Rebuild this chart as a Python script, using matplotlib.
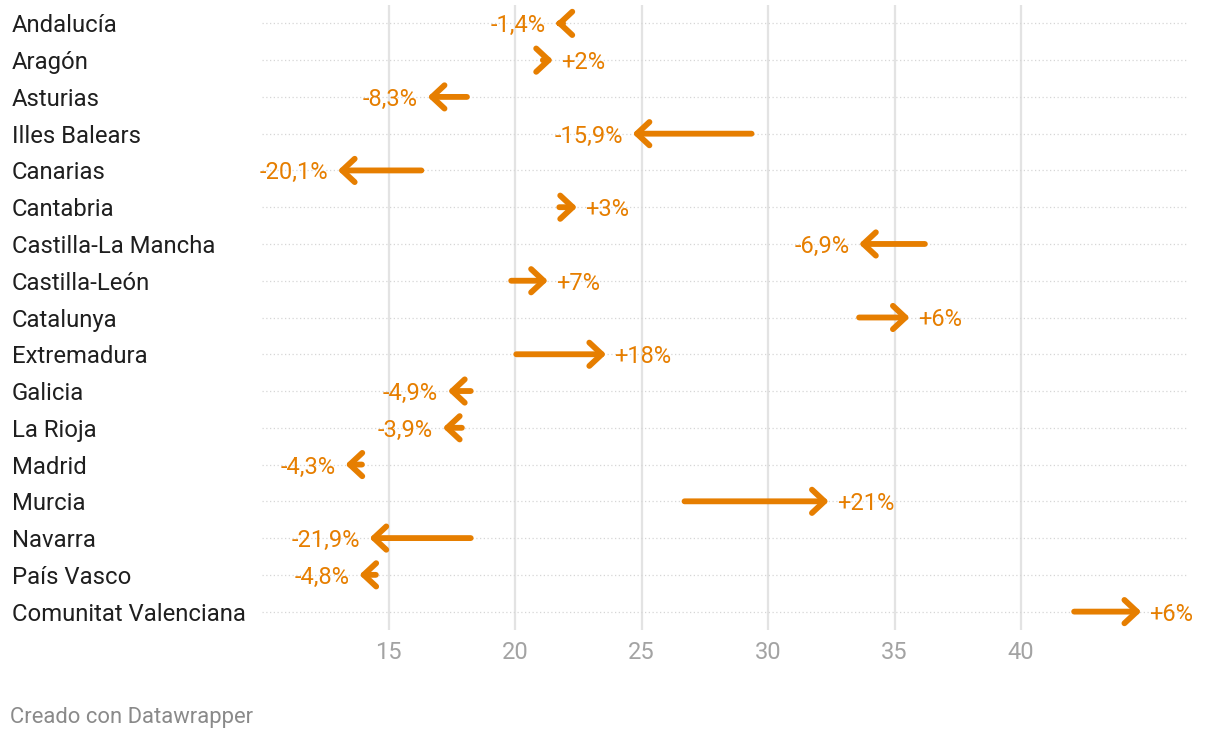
import matplotlib
matplotlib.use("Agg")
import matplotlib.pyplot as plt

plt.rcParams['font.family'] = ['Roboto', 'DejaVu Sans']

regions = ["Andalucía", "Aragón", "Asturias", "Illes Balears", "Canarias", "Cantabria",
           "Castilla-La Mancha", "Castilla-León", "Catalunya", "Extremadura", "Galicia",
           "La Rioja", "Madrid", "Murcia", "Navarra", "País Vasco", "Comunitat Valenciana"]
start = [21.9, 21.1, 18.1, 29.35, 16.3, 21.75, 36.2, 19.85, 33.6, 20.05, 18.25,
         17.9, 13.95, 26.7, 18.25, 14.5, 42.1]
end = [21.6, 21.5, 16.55, 24.65, 13.0, 22.45, 33.6, 21.3, 35.6, 23.6, 17.35,
       17.15, 13.3, 32.4, 14.25, 13.85, 44.75]
change = [-1.4, 2, -8.3, -15.9, -20.1, 3, -6.9, 7, 6, 18, -4.9, -3.9, -4.3, 21, -21.9, -4.8, 6]

ORANGE = "#e67e00"
TEXT = "#1f1f1f"
GREY = "#a3a3a3"

fig = plt.figure(figsize=(12.2, 7.4), dpi=100)
ax = fig.add_axes([262 / 1220, 1 - 630 / 740, (1188 - 262) / 1220, 625 / 740])

ax.set_xlim(10, 46.6)
ax.set_ylim(len(regions) - 0.5, -0.5)

# grid
for x in [15, 20, 25, 30, 35, 40]:
    ax.axvline(x, color="#e3e3e3", lw=1.6, zorder=0)
for i in range(len(regions)):
    ax.axhline(i, color="#d6d6d6", lw=0.9, ls=(0, (1, 2)), zorder=0)

for i, (s, e, c) in enumerate(zip(start, end, change)):
    ax.annotate("", xy=(e, i), xytext=(s, i),
                arrowprops=dict(arrowstyle="->, head_length=0.45, head_width=0.42",
                                color=ORANGE, lw=4.2, shrinkA=0, shrinkB=0,
                                mutation_scale=20, capstyle="round", joinstyle="round"),
                zorder=3)
    label = f"{c:+g}%".replace(".", ",")
    if e < s:
        ax.annotate(label, xy=(e, i), xytext=(-7, 0), textcoords="offset points",
                    ha="right", va="center_baseline", color=ORANGE, fontsize=17)
    else:
        ax.annotate(label, xy=(e, i), xytext=(6, 0), textcoords="offset points",
                    ha="left", va="center_baseline", color=ORANGE, fontsize=17)

ax.set_yticks(range(len(regions)))
ax.set_yticklabels(regions, fontsize=17.2, color=TEXT, ha="left", va="center_baseline")
ax.tick_params(axis="y", length=0, pad=250 / 1.389)
ax.set_xticks([15, 20, 25, 30, 35, 40])
ax.tick_params(axis="x", length=0, pad=8, labelsize=17, labelcolor=GREY)

for sp in ax.spines.values():
    sp.set_visible(False)

fig.text(10 / 1220, 1 - 717 / 740, "Creado con Datawrapper", fontsize=15.8,
         color="#8a8a8a", ha="left", va="center")

fig.savefig("out.png", dpi=100)
